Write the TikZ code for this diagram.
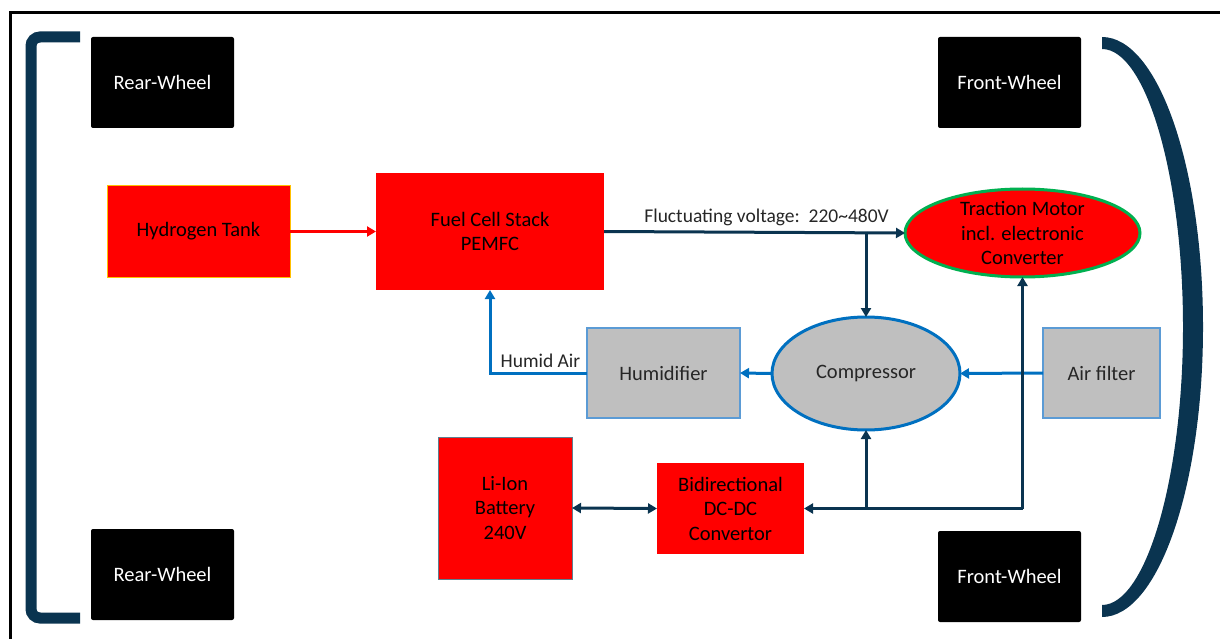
\documentclass[tikz,border=0pt]{standalone}
\usepackage{fontspec}
\setmainfont{Carlito}
\usetikzlibrary{arrows.meta,shapes.geometric}
\definecolor{navy}{HTML}{0A3450}
\definecolor{ppblue}{HTML}{0070C0}
\definecolor{lightblue}{HTML}{5B9BD5}
\definecolor{boxgray}{HTML}{BFBFBF}
\definecolor{ppgreen}{HTML}{00B050}
\definecolor{ppgold}{HTML}{FFC000}
\definecolor{battedge}{HTML}{5F7F8F}
\definecolor{labelgray}{HTML}{262626}
\begin{document}
\begin{tikzpicture}[x=1pt,y=-1pt]
		\tikzset{
			box/.style={rectangle,inner sep=0pt,outer sep=0pt,align=center,font=\fontsize{20.5}{24.5}\selectfont,text=black},
			wheel/.style={box,fill=black,text=white,rounded corners=2pt,minimum width=143pt,minimum height=91pt},
			redbox/.style={box,fill=red},
			graybox/.style={box,fill=boxgray,draw=lightblue,line width=1.2pt,minimum height=90pt,text=labelgray},
			oval/.style={ellipse,inner sep=0pt,outer sep=0pt,line width=3pt},
			midtext/.style={align=center,font=\fontsize{20.5}{24.5}\selectfont},
			lbl/.style={font=\fontsize{19.5}{22}\selectfont,text=labelgray},
			navyarrow/.style={draw=navy,line width=3pt,-{Triangle[length=9pt,width=10pt]}},
			bluearrow/.style={draw=ppblue,line width=3pt,-{Triangle[length=9pt,width=10pt]}},
			redarrow/.style={draw=red,line width=3pt,-{Triangle[length=9pt,width=10pt]}}
		}
		\useasboundingbox (0,0) rectangle (1220,639);
		% frame and wheel brackets
		\draw[line width=3pt] (10,639)--(10,13)--(1220,13);
		\draw[navy,line width=11pt,rounded corners=9pt] (80,37)--(31,37)--(31,618)--(80,618);
		\fill[navy] (1102,37) .. controls (1158,37) and (1203,167) .. (1203,327)
		.. controls (1203,487) and (1158,617) .. (1102,617)--(1102,605)
		.. controls (1146,605) and (1183,478) .. (1183,327)
		.. controls (1183,176) and (1146,49) .. (1102,49)--cycle;
		% wheels
		\node[wheel] (rwtop) at (162.5,82.5) {Rear-Wheel};
		\node[wheel] (rwbot) at (162.5,574.5) {Rear-Wheel};
		\node[wheel] (fwtop) at (1009.5,82.5) {Front-Wheel};
		\node[wheel] (fwbot) at (1009.5,576.5) {Front-Wheel};
		% components
		\node[redbox,draw=ppgold,line width=1pt,minimum width=183pt,minimum height=91pt] (h2) at (198.5,231.5) {Hydrogen Tank};
		\node[redbox,minimum width=228pt,minimum height=117pt] (fc) at (490,231.5) {Fuel Cell Stack\\PEMFC};
		\node[oval,fill=red,draw=ppgreen,minimum width=235pt,minimum height=88pt,
		label={[midtext,name=tractiontext]center:Traction Motor\\incl. electronic\\Converter}] (traction) at (1022.5,233) {};
		\node[oval,fill=boxgray,draw=ppblue,minimum width=188pt,minimum height=113pt,
		label={[midtext,text=labelgray,name=comptext]center:Compressor}] (comp) at (866,373.5) {};
		\node[graybox,minimum width=153pt] (hum) at (663.5,373) {Humidifier};
		\node[graybox,minimum width=117pt] (air) at (1101.5,373) {Air filter};
		\node[redbox,draw=battedge,line width=1pt,minimum width=134pt,minimum height=142pt] (batt) at (505,508) {Li-Ion\\Battery\\240V};
		\node[redbox,minimum width=147pt,minimum height=91pt] (dcdc) at (730.5,508.5) {Bidirectional\\DC-DC\\Convertor};
		% connectors
		\draw[redarrow] (h2.east)--(fc.west);
		\draw[navyarrow] (fc.east)--(traction.west) node[lbl,pos=0.54,above,inner sep=5pt] (volt) {Fluctuating voltage:\ \ 220\char`~480V};
		\draw[navyarrow] (comp.north |- fc.east)--(comp.north);
		\draw[bluearrow] (comp.west)--(hum.east);
		\draw[bluearrow] (air.west)--(comp.east);
		\draw[bluearrow] (hum.west)-|(fc.south) node[lbl,pos=0.24,above,inner sep=4pt] (humid) {Humid Air};
		\draw[draw=navy,line width=3pt,{Triangle[length=9pt,width=10pt]}-{Triangle[length=9pt,width=10pt]}] (batt.east)--(dcdc.west);
		\coordinate (bus) at (traction.south |- dcdc.east);
		\draw[navyarrow] (bus)--(dcdc.east);
		\draw[navyarrow] (bus)--(traction.south);
		\draw[navyarrow] (comp.south |- dcdc.east)--(comp.south);
	\end{tikzpicture}
\end{document}
